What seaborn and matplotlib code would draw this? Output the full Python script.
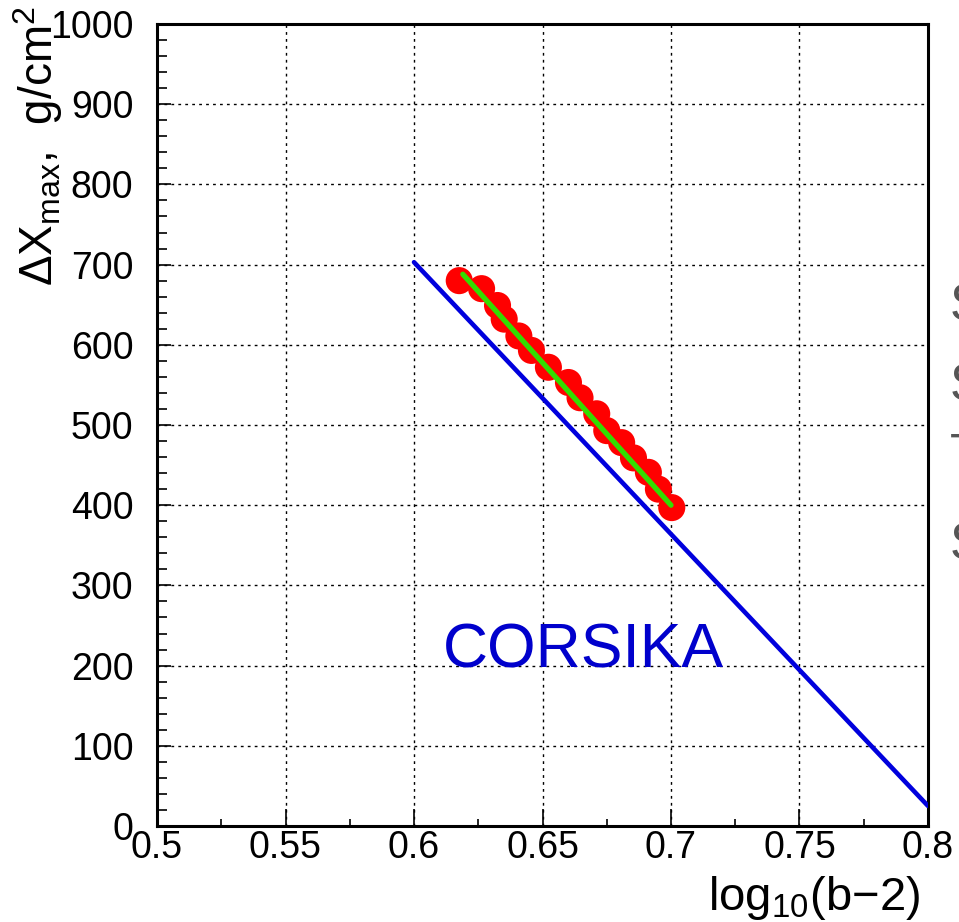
import matplotlib
matplotlib.use("Agg")
import matplotlib.pyplot as plt
import seaborn as sns
import pandas as pd
from matplotlib.ticker import MultipleLocator, FixedLocator

# Data
sim_x = [0.6176, 0.6263, 0.6325, 0.6351, 0.6408, 0.6457, 0.6523, 0.6601,
         0.6646, 0.6711, 0.6750, 0.6808, 0.6854, 0.6912, 0.6951, 0.7003]
sim_y = [680, 670, 649, 632, 611, 593, 572, 553,
         534, 514, 493, 478, 459, 441, 420, 397]
fit_x = [0.619, 0.700]
fit_y = [688, 400]
corsika_x = [0.600, 0.800]
corsika_y = [703, 25]
x_ticks = [0.5, 0.55, 0.6, 0.65, 0.7, 0.75, 0.8]
x_tick_labels = ["0.5", "0.55", "0.6", "0.65", "0.7", "0.75", "0.8"]
y_ticks = [0, 100, 200, 300, 400, 500, 600, 700, 800, 900, 1000]
side_text = ["S", "S", "T", "S"]

sns.set_theme(style="white")
plt.rcParams['font.family'] = ['Liberation Sans', 'DejaVu Sans']
plt.rcParams['mathtext.fontset'] = 'custom'
plt.rcParams['mathtext.rm'] = 'Liberation Sans'
plt.rcParams['mathtext.it'] = 'Liberation Sans'

fig = plt.figure(figsize=(9.59, 9.22), dpi=100)
ax = fig.add_axes([157/959, 1-826/922, (928-157)/959, (826-24)/922])

df_sim = pd.DataFrame({"x": sim_x, "y": sim_y})
df_fit = pd.DataFrame({"x": fit_x, "y": fit_y})
df_cor = pd.DataFrame({"x": corsika_x, "y": corsika_y})

sns.lineplot(data=df_cor, x="x", y="y", ax=ax, color="#0000dd", lw=3.3,
             sort=False, zorder=3)
sns.scatterplot(data=df_sim, x="x", y="y", ax=ax, color="#ff0000", s=380,
                edgecolor="none", linewidth=0, zorder=4)
sns.lineplot(data=df_fit, x="x", y="y", ax=ax, color="#33dd00", lw=3.8,
             sort=False, zorder=5)

ax.set_xlim(0.5, 0.8)
ax.set_ylim(0, 1000)
ax.set_xlabel("")
ax.set_ylabel("")
ax.xaxis.set_major_locator(FixedLocator(x_ticks))
ax.set_xticklabels(x_tick_labels)
ax.xaxis.set_minor_locator(MultipleLocator(0.025))
ax.yaxis.set_major_locator(FixedLocator(y_ticks))
ax.yaxis.set_minor_locator(MultipleLocator(20))

ax.grid(True, which="major", color="black", linestyle=(0, (2, 3)), lw=1.0)
for s in ax.spines.values():
    s.set_color("black")
    s.set_linewidth(2.2)
    s.set_visible(True)
ax.tick_params(which="both", direction="in", colors="black", labelsize=27,
               top=False, right=False, left=True, bottom=True, width=1.2)
ax.tick_params(axis="x", which="major", length=12, pad=3)
ax.tick_params(axis="x", which="minor", length=5)
ax.tick_params(axis="y", which="major", length=10, pad=17)
ax.tick_params(axis="y", which="minor", length=7)

ax.text(0.6113, 197.5, "CORSIKA", color="#0000cc", fontsize=45,
        ha="left", va="baseline", zorder=6)

fig.text(38/959, 1-6/922, r"$\Delta$X$_{max}$,  g/cm$^{2}$", rotation=90,
         ha="center", va="top", fontsize=33, color="black")
fig.text(920/959, 1-910/922, r"log$_{10}$(b$-$2)", ha="right",
         va="baseline", fontsize=34, color="black")

side_y = [320, 400, 470, 560]
for t, yy in zip(side_text, side_y):
    fig.text(950/959, 1-yy/922, t, ha="left", va="baseline", fontsize=37,
             color="#555555")

fig.savefig("out.png", dpi=100)
